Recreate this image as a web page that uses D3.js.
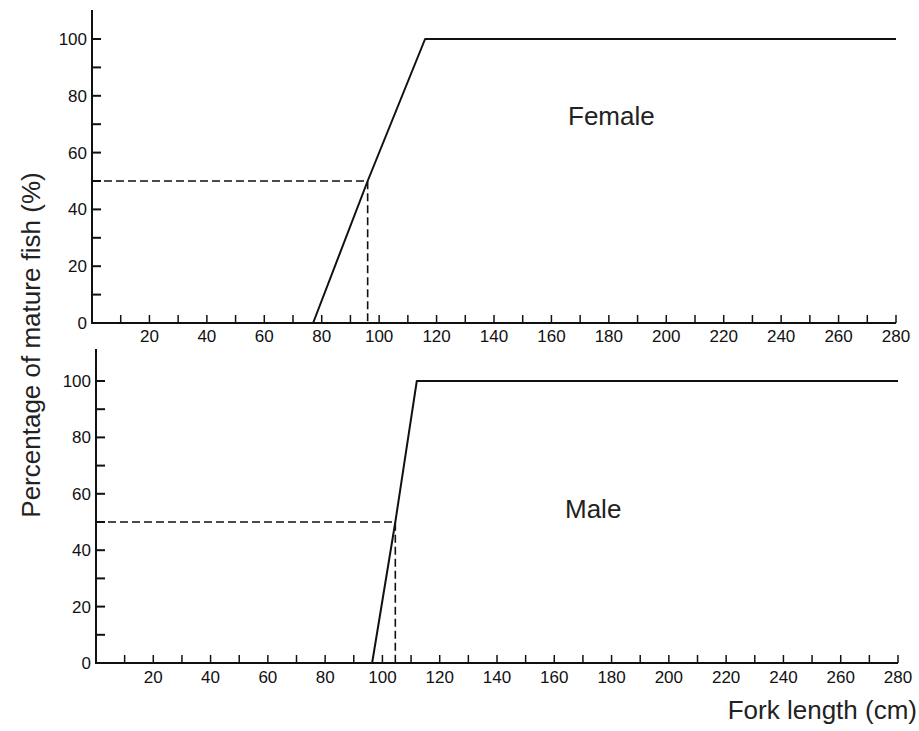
<!DOCTYPE html>
<html>
<head>
<meta charset="utf-8">
<script src="https://cdn.jsdelivr.net/npm/d3@7"></script>
<style>
  body { margin: 0; background: #fff; }
  text { font-family: 'Liberation Sans', Arial, sans-serif; }
</style>
</head>
<body>
<svg width="919" height="731"></svg>
<script>
// maturity ogives
let femaleCurve = [[77, 0], [96, 50], [116, 100], [280, 100]]
let maleCurve = [[96.4, 0], [104.5, 50], [112, 100], [280, 100]]
let femaleL50 = 96
let maleL50 = 104.5
let xTickLabels = [20, 40, 60, 80, 100, 120, 140, 160, 180, 200, 220, 240, 260, 280]
let yTickLabels = [0, 20, 40, 60, 80, 100]

let svg = d3.select('svg')

let panels = [
  {name: 'Female', curve: femaleCurve, l50: femaleL50, x0: 92, x1: 896, y0: 323, y100: 39, top: 10, labelX: 568, labelY: 125, labelGap: 19},
  {name: 'Male', curve: maleCurve, l50: maleL50, x0: 96, x1: 898, y0: 663, y100: 381, top: 349, labelX: 565, labelY: 518, labelGap: 20}
]

panels.forEach(function (p) {
  let g = svg.append('g')
  let x = d3.scaleLinear().domain([0, 280]).range([p.x0, p.x1])
  let y = d3.scaleLinear().domain([0, 100]).range([p.y0, p.y100])
  let yTop = y.invert(p.top)

  // y axis line
  g.append('line')
    .attr('x1', x(0)).attr('x2', x(0))
    .attr('y1', y(0) + 1).attr('y2', y(yTop))
    .attr('stroke', '#111').attr('stroke-width', 2)
  // x axis line
  g.append('line')
    .attr('x1', x(0)).attr('x2', x(280))
    .attr('y1', y(0)).attr('y2', y(0))
    .attr('stroke', '#111').attr('stroke-width', 2)

  // y ticks (inward), every 10
  g.selectAll('.yt').data(d3.range(10, 101, 10)).enter().append('line')
    .attr('x1', x(0)).attr('x2', x(0) + 9)
    .attr('y1', d => y(d)).attr('y2', d => y(d))
    .attr('stroke', '#111').attr('stroke-width', 2)
  g.selectAll('.yl').data(yTickLabels).enter().append('text')
    .attr('x', x(0) - 5).attr('y', d => y(d) + 6)
    .attr('text-anchor', 'end')
    .attr('font-size', 17)
    .attr('fill', '#111')
    .text(d => d)

  // x ticks (upward), every 10
  g.selectAll('.xt').data(d3.range(10, 281, 10)).enter().append('line')
    .attr('x1', d => x(d)).attr('x2', d => x(d))
    .attr('y1', y(0)).attr('y2', y(0) - 8)
    .attr('stroke', '#111').attr('stroke-width', 1.5)
  g.selectAll('.xl').data(xTickLabels).enter().append('text')
    .attr('x', d => x(d)).attr('y', y(0) + p.labelGap)
    .attr('text-anchor', 'middle')
    .attr('font-size', 17)
    .attr('fill', '#111')
    .text(d => d)

  // dashed 50% guides
  g.append('path')
    .attr('d', 'M' + x(0) + ',' + y(50) + 'L' + x(p.l50) + ',' + y(50) + 'L' + x(p.l50) + ',' + y(0))
    .attr('fill', 'none')
    .attr('stroke', '#111').attr('stroke-width', 1.6)
    .attr('stroke-dasharray', '8,4')

  // ogive
  let line = d3.line().x(d => x(d[0])).y(d => y(d[1]))
  g.append('path').attr('d', line(p.curve))
    .attr('fill', 'none')
    .attr('stroke', '#111').attr('stroke-width', 2)
    .attr('stroke-linejoin', 'round')

  g.append('text')
    .attr('x', p.labelX).attr('y', p.labelY)
    .attr('font-size', 26)
    .attr('fill', '#222')
    .text(p.name)
})

svg.append('text')
  .attr('transform', 'translate(40,345) rotate(-90)')
  .attr('text-anchor', 'middle')
  .attr('font-size', 26)
  .attr('fill', '#222')
  .text('Percentage of mature fish (%)')

svg.append('text')
  .attr('x', 917).attr('y', 719)
  .attr('text-anchor', 'end')
  .attr('font-size', 26)
  .attr('fill', '#222')
  .text('Fork length (cm)')
</script>
</body>
</html>
